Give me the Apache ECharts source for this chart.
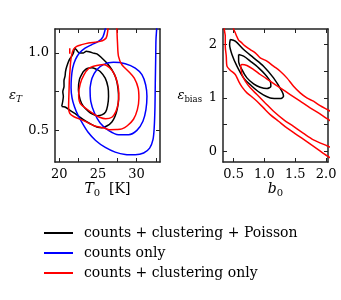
<!DOCTYPE html>
<html><head><meta charset="utf-8">
<script src="https://cdn.jsdelivr.net/npm/echarts@6/dist/echarts.min.js"></script>
<style>html,body{margin:0;padding:0;background:#fff}#c{width:341px;height:300px}</style>
</head><body><div id="c"></div>
<script>
// ---- legend names ----
const NAME_ALL = 'counts + clustering + Poisson';
const NAME_COUNTS = 'counts only';
const NAME_CLUS = 'counts + clustering only';

// ---- left panel ticks (T0 vs eps_T) ----
const leftXTicks = [20, 22.5, 25, 27.5, 30, 32.5];
const leftXLabels = [20, 25, 30];
const leftYTicks = [0.5, 0.75, 1.0];
const leftYLabels = [0.5, 1.0];
// ---- right panel ticks (b0 vs eps_bias) ----
const rightXTicks = [0.5, 1.0, 1.5, 2.0];
const rightXLabels = [0.5, 1.0, 1.5, 2.0];
const rightYTicks = [0, 0.5, 1, 1.5, 2];
const rightYLabels = [0, 1, 2];

// ---- left panel contours [T0, eps_T] ----
const tBlackOuter = [[20.31,0.655],[20.45,0.69],[20.52,0.72],[20.45,0.75],[20.61,0.785],[20.6,0.82],[20.74,0.85],[20.8,0.88],[20.96,0.913],[21.3,0.957],[21.55,0.975],[21.82,1.0],[22.0,1.03],[22.26,1.017],[22.6,1.0],[23.12,1.0],[23.5,1.012],[23.99,1.006],[24.5,0.998],[24.86,0.995],[25.5,0.968],[26.16,0.935],[26.8,0.892],[27.32,0.838],[27.6,0.77],[27.67,0.7],[27.5,0.64],[27.2,0.59],[26.8,0.555],[26.2,0.53],[25.5,0.517],[24.86,0.522],[23.99,0.543],[23.12,0.569],[22.26,0.601],[21.39,0.629],[20.74,0.651],[20.31,0.655]];
const tBlackInner = [[23.12,0.881],[23.6,0.9],[24.21,0.905],[24.8,0.895],[25.29,0.881],[25.94,0.838],[26.3,0.78],[26.37,0.72],[26.25,0.66],[26.0,0.62],[25.5,0.6],[24.9,0.595],[24.3,0.605],[23.77,0.623],[23.12,0.655],[22.69,0.699],[22.47,0.763],[22.6,0.828],[23.12,0.881]];
const tBlueOuter = [[26.06,1.183],[25.93,1.151],[25.63,1.103],[25.06,1.075],[24.2,1.054],[23.33,1.032],[22.6,1.0],[22.08,0.957],[21.73,0.903],[21.56,0.838],[21.52,0.774],[21.65,0.709],[21.95,0.655],[22.4,0.6],[23.0,0.545],[23.7,0.49],[24.7,0.435],[25.95,0.39],[27.23,0.36],[28.53,0.345],[29.83,0.343],[30.91,0.354],[31.69,0.386],[32.12,0.44],[32.29,0.526],[32.38,0.655],[32.42,0.806],[32.47,0.957],[32.51,1.086],[32.6,1.155],[32.64,1.194]];
const tBlueInner = [[23.98,0.774],[24.24,0.838],[24.85,0.892],[25.71,0.925],[27.01,0.94],[28.53,0.931],[29.83,0.903],[30.69,0.86],[31.17,0.795],[31.34,0.72],[31.21,0.634],[30.82,0.559],[30.04,0.5],[28.96,0.472],[27.66,0.472],[26.36,0.5],[25.28,0.548],[24.55,0.612],[24.07,0.688],[23.98,0.774]];
const tRedOuter = [[26.4,1.19],[26.3,1.155],[26.06,1.097],[25.28,1.075],[23.77,1.065],[22.9,1.054],[22.25,1.043],[21.82,1.022],[21.6,0.99],[21.47,0.946],[21.39,0.892],[21.3,0.828],[21.26,0.763],[21.22,0.7],[21.2,0.65],[21.35,0.61],[21.9,0.588],[23.2,0.562],[24.5,0.53],[25.8,0.515],[26.5,0.505],[27.4,0.506],[28.1,0.51],[28.8,0.53],[29.6,0.572],[30.1,0.634],[30.3,0.709],[30.2,0.774],[29.7,0.838],[28.96,0.881],[28.1,0.924],[27.66,0.978],[27.53,1.065],[27.45,1.155],[27.44,1.19]];
const tRedInner = [[24.42,0.914],[25.71,0.925],[26.5,0.905],[27.1,0.865],[27.5,0.81],[27.7,0.74],[27.6,0.67],[27.3,0.62],[26.8,0.585],[26.0,0.575],[25.2,0.585],[24.5,0.605],[23.5,0.64],[22.7,0.675],[22.5,0.73],[22.7,0.8],[23.2,0.86],[23.8,0.9],[24.42,0.914]];
const tRedBit = [[21.35,0.995],[21.35,1.03]];

// ---- right panel contours [b0, eps_bias] ----
const bBlackOuter = [[0.446,2.094],[0.527,2.063],[0.662,1.906],[0.824,1.75],[0.985,1.594],[1.147,1.375],[1.282,1.125],[1.309,1.031],[1.255,0.988],[1.093,1.0],[0.931,1.094],[0.797,1.219],[0.662,1.375],[0.554,1.594],[0.473,1.813],[0.435,2.0],[0.446,2.094]];
const bBlackInner = [[0.581,1.813],[0.662,1.781],[0.77,1.688],[0.905,1.563],[1.012,1.438],[1.093,1.313],[1.104,1.219],[1.039,1.175],[0.931,1.2],[0.824,1.263],[0.716,1.375],[0.635,1.531],[0.581,1.688],[0.581,1.813]];
const bRedInner = [[2.1,0.55],[2.02,0.606],[1.875,0.719],[1.74,0.813],[1.579,0.938],[1.417,1.063],[1.255,1.188],[1.093,1.313],[0.931,1.438],[0.824,1.531],[0.716,1.606],[0.635,1.625],[0.615,1.59],[0.624,1.52],[0.635,1.438],[0.689,1.313],[0.77,1.188],[0.878,1.063],[1.012,0.906],[1.147,0.75],[1.309,0.594],[1.471,0.465],[1.633,0.335],[1.794,0.215],[2.02,0.1],[2.1,0.06]];
const bRedOuterUpper = [[0.49,2.4],[0.5,2.29],[0.527,2.219],[0.554,2.144],[0.581,2.081],[0.619,2.044],[0.689,1.969],[0.77,1.906],[0.851,1.844],[0.931,1.75],[1.039,1.688],[1.147,1.594],[1.255,1.5],[1.363,1.375],[1.471,1.219],[1.579,1.094],[1.687,1.0],[1.794,0.938],[1.902,0.856],[2.02,0.781],[2.1,0.73]];
const bRedOuterLower = [[0.349,2.4],[0.349,2.29],[0.365,2.156],[0.365,1.969],[0.381,1.781],[0.392,1.594],[0.446,1.519],[0.527,1.438],[0.581,1.313],[0.635,1.206],[0.716,1.094],[0.797,1.019],[0.878,0.938],[0.985,0.813],[1.093,0.688],[1.228,0.563],[1.363,0.438],[1.525,0.31],[1.687,0.18],[1.848,0.05],[2.02,-0.09],[2.1,-0.14]];

const FONT = "'DejaVu Serif', serif";
const FRAME = '#222';
const RICH = {
  i: {fontFamily: FONT, fontStyle: 'italic', fontSize: 14, color: '#000'},
  e: {fontFamily: FONT, fontStyle: 'italic', fontSize: 13, color: '#000'},
  n: {fontFamily: FONT, fontSize: 14, color: '#000'},
  si: {fontFamily: FONT, fontStyle: 'italic', fontSize: 9, color: '#000', padding: [9, 0, 0, 0]},
  s: {fontFamily: FONT, fontSize: 10, color: '#000', padding: [9, 0, 0, 0]},
  sb: {fontFamily: FONT, fontSize: 8.5, color: '#000', padding: [9, 0, 0, 0]}
};

function axis(grid, pos, min, max, ticks, labels, fmt, name, nameGap) {
  const showLbl = (pos === 'bottom' || pos === 'left');
  const a = {
    gridIndex: grid, type: 'value', position: pos, min: min, max: max,
    axisLine: {show: true, onZero: false, lineStyle: {color: FRAME, width: 1.5}},
    axisTick: {show: true, inside: true, length: 4, customValues: ticks, lineStyle: {color: FRAME, width: 1}},
    axisLabel: showLbl ? {show: true, customValues: labels, formatter: fmt, margin: 6,
      fontFamily: FONT, fontSize: 13, color: '#000'} : {show: false},
    splitLine: {show: false}
  };
  if (name) {
    a.name = name; a.nameLocation = 'middle'; a.nameGap = nameGap; a.nameRotate = 0;
    a.nameTextStyle = {rich: RICH};
  }
  return a;
}

function contour(data, color, name, xi, yi) {
  return {type: 'line', name: name, data: data, xAxisIndex: xi, yAxisIndex: yi,
    symbol: 'none', smooth: 0.3, clip: true, silent: true,
    lineStyle: {color: color, width: 1.5}, itemStyle: {color: color}};
}

const chart = echarts.init(document.getElementById('c'), null, {renderer: 'canvas'});
chart.setOption({
  animation: false,
  backgroundColor: '#fff',
  grid: [
    {left: 55, top: 29, width: 105, height: 133},
    {left: 223, top: 29, width: 105, height: 133}
  ],
  xAxis: [
    axis(0, 'bottom', 19.44, 33.03, leftXTicks, leftXLabels, v => String(v), '{i|T}{s|0}{n|  [K]}', 17),
    axis(0, 'top', 19.44, 33.03, leftXTicks, leftXLabels, null, null, 0),
    axis(1, 'bottom', 0.328, 2.03, rightXTicks, rightXLabels, v => v.toFixed(1), '{i|b}{s|0}', 17),
    axis(1, 'top', 0.328, 2.03, rightXTicks, rightXLabels, null, null, 0)
  ],
  yAxis: [
    axis(0, 'left', 0.296, 1.155, leftYTicks, leftYLabels, v => v.toFixed(1), '{e|ε}{si|T}', 33),
    axis(0, 'right', 0.296, 1.155, leftYTicks, leftYLabels, null, null, 0),
    axis(1, 'left', -0.2, 2.29, rightYTicks, rightYLabels, v => String(v), '{e|ε}{sb|bias}', 21),
    axis(1, 'right', -0.2, 2.29, rightYTicks, rightYLabels, null, null, 0)
  ],
  legend: {
    orient: 'vertical', left: 44, top: 223, padding: 0, itemWidth: 29, itemHeight: 2, itemGap: 0,
    icon: 'rect', selectedMode: false,
    data: [NAME_ALL, NAME_COUNTS, NAME_CLUS],
    textStyle: {fontFamily: FONT, fontSize: 14, color: '#000', lineHeight: 20, padding: [0, 0, 0, 6]}
  },
  series: [
    contour(tBlackOuter, '#000000', NAME_ALL, 0, 0),
    contour(tBlackInner, '#000000', NAME_ALL, 0, 0),
    contour(bBlackOuter, '#000000', NAME_ALL, 2, 2),
    contour(bBlackInner, '#000000', NAME_ALL, 2, 2),
    contour(tBlueOuter, '#0000ff', NAME_COUNTS, 0, 0),
    contour(tBlueInner, '#0000ff', NAME_COUNTS, 0, 0),
    contour(tRedOuter, '#ff0000', NAME_CLUS, 0, 0),
    contour(tRedInner, '#ff0000', NAME_CLUS, 0, 0),
    contour(tRedBit, '#ff0000', NAME_CLUS, 0, 0),
    contour(bRedInner, '#ff0000', NAME_CLUS, 2, 2),
    contour(bRedOuterUpper, '#ff0000', NAME_CLUS, 2, 2),
    contour(bRedOuterLower, '#ff0000', NAME_CLUS, 2, 2)
  ]
});
</script></body></html>
